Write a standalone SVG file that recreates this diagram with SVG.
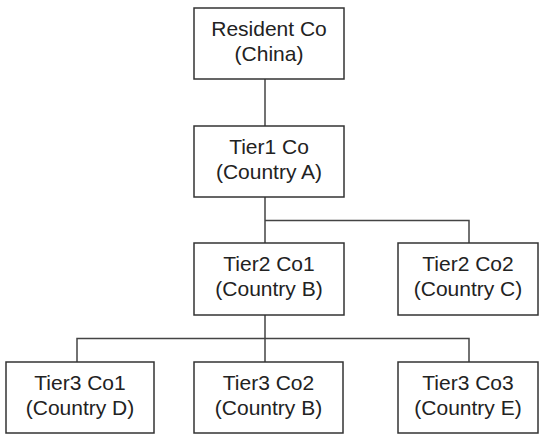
<svg xmlns="http://www.w3.org/2000/svg" width="540" height="434" viewBox="0 0 540 434">
  <style>
    .box { fill: #ffffff; stroke: #333333; stroke-width: 1.5; }
    .conn { fill: none; stroke: #444444; stroke-width: 1.5; }
    .lbl { font-family: "Liberation Sans", Arial, sans-serif; font-size: 21px; fill: #222222; text-anchor: middle; }
  </style>
  <rect width="540" height="434" fill="#ffffff"/>

  <!-- connectors -->
  <g id="connectors">
    <path class="conn" d="M265 79 V126"/>
    <path class="conn" d="M265 197 V243 M265 220.5 H469 V243"/>
    <path class="conn" d="M265 315 V362 M77 362 V338.5 H469 V362"/>
  </g>

  <!-- nodes -->
  <g id="resident-co">
    <rect class="box" x="194" y="8" width="150" height="71"/>
    <text class="lbl" x="269" y="36">Resident Co</text>
    <text class="lbl" x="269" y="61">(China)</text>
  </g>
  <g id="tier1-co">
    <rect class="box" x="194" y="126" width="150" height="71"/>
    <text class="lbl" x="269" y="154">Tier1 Co</text>
    <text class="lbl" x="269" y="179">(Country A)</text>
  </g>
  <g id="tier2-co1">
    <rect class="box" x="194" y="243" width="150" height="72"/>
    <text class="lbl" x="269" y="271">Tier2 Co1</text>
    <text class="lbl" x="269" y="296">(Country B)</text>
  </g>
  <g id="tier2-co2">
    <rect class="box" x="398" y="243" width="140" height="72"/>
    <text class="lbl" x="468" y="271">Tier2 Co2</text>
    <text class="lbl" x="468" y="296">(Country C)</text>
  </g>
  <g id="tier3-co1">
    <rect class="box" x="6" y="362" width="148" height="71"/>
    <text class="lbl" x="80" y="390">Tier3 Co1</text>
    <text class="lbl" x="80" y="415">(Country D)</text>
  </g>
  <g id="tier3-co2">
    <rect class="box" x="194" y="362" width="149" height="71"/>
    <text class="lbl" x="268.5" y="390">Tier3 Co2</text>
    <text class="lbl" x="268.5" y="415">(Country B)</text>
  </g>
  <g id="tier3-co3">
    <rect class="box" x="398" y="362" width="140" height="71"/>
    <text class="lbl" x="468" y="390">Tier3 Co3</text>
    <text class="lbl" x="468" y="415">(Country E)</text>
  </g>
</svg>
